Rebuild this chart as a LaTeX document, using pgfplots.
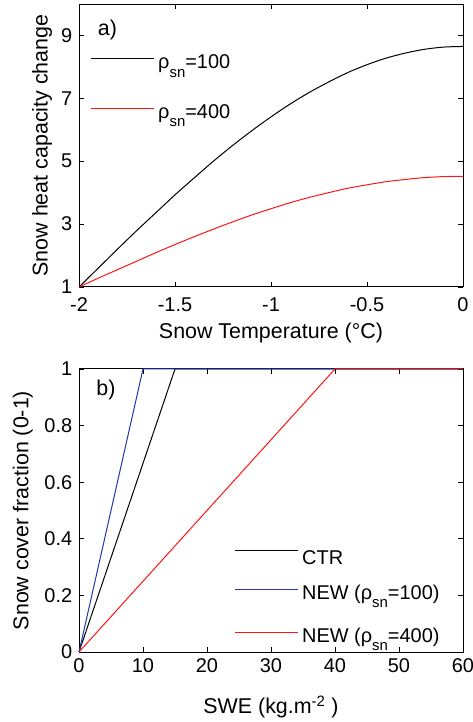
\documentclass[border=0pt]{standalone}
\usepackage{fontspec}
\setmainfont{Liberation Sans}
\usepackage{pgfplots}
\pgfplotsset{compat=1.18}
\definecolor{newblue}{RGB}{35,55,165}
\definecolor{newred}{RGB}{255,20,20}
\newcommand{\rsn}{ρ\raisebox{-8.5bp}{\fontsize{15}{15}\selectfont sn}}
\newcommand{\figfont}{\fontsize{20}{24}\selectfont}
\newcommand{\labfont}{\fontsize{21.5}{26}\selectfont}

\begin{document}
\figfont
\begin{tikzpicture}
\path[use as bounding box] (0,0) rectangle (473bp,722bp);
\pgfplotsset{
  every axis/.append style={
    scale only axis, width=384bp, height=283bp,
    axis line style={line width=1bp},
    every tick/.style={black, line width=0.8bp},
    major tick length=5bp,
    tick align=inside,
    tick label style={font=\figfont},
    clip=false,
    legend cell align=left,
    legend style={draw=none, fill=none, inner sep=0pt, font=\figfont,
      nodes={inner sep=3.5bp, text depth=}},
    legend image code/.code={\draw[#1, line width=1bp] (0bp,0.36em) -- (63bp,0.36em);},
  }
}

% a) heat capacity change
\begin{axis}[
  at={(79bp,435bp)}, anchor=south west,
  xmin=-2, xmax=0, ymin=1, ymax=10,
  xtick={-2,-1.5,-1,-0.5,0}, xticklabels={-2,-1.5,-1,-0.5,0},
  ytick={1,3,5,7,9}, yticklabels={1,3,5,7,9},
  xticklabel style={yshift=-4bp},
  xlabel={Snow Temperature (°C)},
  ylabel={Snow heat capacity change},
  every axis x label/.style={at={(axis description cs:0.5,-0.163)}, anchor=center, font=\labfont},
  every axis y label/.style={at={(axis description cs:-0.096,0.5)}, rotate=90, anchor=center, font=\labfont},
  legend style={at={(axis description cs:0.030,0.834)}, anchor=north west, row sep=20bp},
]
\addplot[black, line width=1bp, smooth] coordinates {
  (-2,1.00) (-1.9,1.60) (-1.8,2.20) (-1.7,2.79) (-1.6,3.36) (-1.5,3.93)
  (-1.4,4.47) (-1.3,5.00) (-1.2,5.50) (-1.1,5.97) (-1.0,6.41) (-0.9,6.82)
  (-0.8,7.19) (-0.7,7.52) (-0.6,7.82) (-0.5,8.07) (-0.4,8.28) (-0.3,8.44)
  (-0.2,8.56) (-0.1,8.63) (0,8.65)
};
\addlegendentry{\rsn=100}
\addplot[newred, line width=1bp, smooth] coordinates {
  (-2,1.00) (-1.9,1.28) (-1.8,1.55) (-1.7,1.82) (-1.6,2.09) (-1.5,2.35)
  (-1.4,2.60) (-1.3,2.84) (-1.2,3.07) (-1.1,3.29) (-1.0,3.49) (-0.9,3.68)
  (-0.8,3.85) (-0.7,4.00) (-0.6,4.14) (-0.5,4.25) (-0.4,4.35) (-0.3,4.42)
  (-0.2,4.48) (-0.1,4.51) (0,4.52)
};
\addlegendentry{\rsn=400}
\node[font=\labfont] at (axis description cs:0.074,0.908) {a)};
\end{axis}

% b) snow cover fraction
\begin{axis}[
  at={(79bp,70bp)}, anchor=south west,
  xmin=0, xmax=60, ymin=0, ymax=1,
  xtick={0,10,20,30,40,50,60}, xticklabels={0,10,20,30,40,50,60},
  ytick={0,0.2,0.4,0.6,0.8,1}, yticklabels={0,0.2,0.4,0.6,0.8,1},
  xlabel={SWE (kg.m\textsuperscript{-2} )},
  ylabel={Snow cover fraction (0-1)},
  every axis x label/.style={at={(axis description cs:0.5,-0.194)}, anchor=center, font=\labfont},
  every axis y label/.style={at={(axis description cs:-0.146,0.5)}, rotate=90, anchor=center, font=\labfont},
  legend style={at={(axis description cs:0.405,0.371)}, anchor=north west, row sep=13bp},
]
\addplot[black, line width=1bp] coordinates {(0,0) (15,1) (60,1)};
\addlegendentry{CTR}
\addplot[newblue, line width=1bp] coordinates {(0,0) (10,1) (60,1)};
\addlegendentry{NEW (\rsn=100)}
\addplot[newred, line width=1bp] coordinates {(0,0) (40,1) (60,1)};
\addlegendentry{NEW (\rsn=400)}
\node[font=\labfont] at (axis description cs:0.070,0.926) {b)};
\end{axis}
\end{tikzpicture}
\end{document}
